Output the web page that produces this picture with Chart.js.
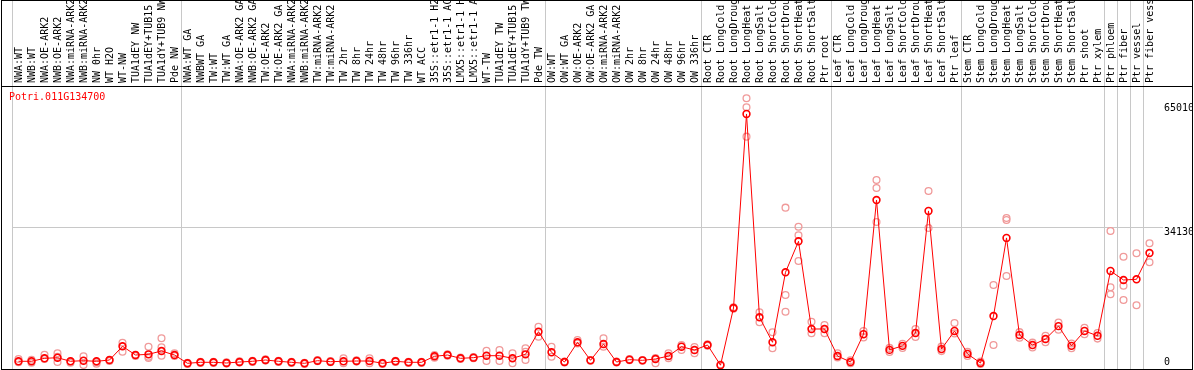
<!DOCTYPE html>
<html><head><meta charset="utf-8">
<script src="https://cdn.jsdelivr.net/npm/chart.js@4/dist/chart.umd.min.js"></script>
<style>html,body{margin:0;padding:0;background:#fff}canvas{display:block}</style>
</head><body>
<canvas id="c" width="1194" height="370"></canvas>
<script>
const geneName = 'Potri.011G134700';
const categories = [
 'NWA:WT','NWB:WT','NWA:OE-ARK2','NWB:OE-ARK2','NWA:miRNA-ARK2','NWB:miRNA-ARK2','NW 0hr','WT H2O','WT-NW','TUA1dEY NW','TUA1dEY+TUB15 NW','TUA1dY+TUB9 NW','Pde NW',
 'NWA:WT GA','NWBWT GA','TW:WT','TW:WT GA','NWA:OE-ARK2 GA','NWB:OE-ARK2 GA','TW:OE-ARK2','TW:OE-ARK2 GA','NWA:miRNA-ARK2','NWB:miRNA-ARK2','TW:miRNA-ARK2','TW:miRNA-ARK2',
 'TW 2hr','TW 8hr','TW 24hr','TW 48hr','TW 96hr','TW 336hr','WT ACC','35S::etr1-1 H2O','35S::etr1-1 ACC','LMX5::etr1-1 H2O','LMX5::etr1-1 ACC','WT-TW','TUA1dEY TW','TUA1dEY+TUB15 TW','TUA1dY+TUB9 TW','Pde TW',
 'OW:WT','OW:WT GA','OW:OE-ARK2','OW:OE-ARK2 GA','OW:miRNA-ARK2','OW:miRNA-ARK2','OW 2hr','OW 8hr','OW 24hr','OW 48hr','OW 96hr','OW 336hr',
 'Root CTR','Root LongCold','Root LongDrought','Root LongHeat','Root LongSalt','Root ShortCold','Root ShortDrought','Root ShortHeat','Root ShortSalt','Ptr root',
 'Leaf CTR','Leaf LongCold','Leaf LongDrought','Leaf LongHeat','Leaf LongSalt','Leaf ShortCold','Leaf ShortDrought','Leaf ShortHeat','Leaf ShortSalt','Ptr leaf',
 'Stem CTR','Stem LongCold','Stem LongDrought','Stem LongHeat','Stem LongSalt','Stem ShortCold','Stem ShortDrought','Stem ShortHeat','Stem ShortSalt','Ptr shoot',
 'Ptr xylem','Ptr phloem','Ptr fiber','Ptr vessel','Ptr fiber vessel'
];
const meanValues = [
 970,970,1710,1860,970,1120,970,1290,4690,2530,2700,3530,2530,
 470,720,720,550,790,970,1290,970,720,470,1120,870,
 970,1040,1040,470,970,720,720,2210,2530,1710,1870,2360,2360,1710,2700,8320,
 3200,790,5690,1210,5260,790,1370,1210,1540,2280,4590,3770,
 5020,0,14200,62370,11890,5690,23070,30760,8990,8990,
 2280,800,7700,41000,3800,4800,8000,38300,4000,8500,
 2800,550,12200,31600,7500,5000,6500,9700,4800,8500,
 7300,23400,21150,21330,27860
];
const rep1 = [
 1540,1370,2610,2950,970,2210,720,1290,5590,2530,4590,6680,2950,
 620,870,870,700,940,1120,1440,1120,870,620,1270,1020,
 1710,1190,1710,620,1120,870,870,2530,2700,1870,2030,3600,3770,2950,4190,9560,
 4590,900,6260,1300,6680,900,1500,1300,1800,2950,5000,4500,
 5200,150,14400,66270,13140,8170,39110,34390,10800,9980,
 2950,1200,8500,45990,4300,5300,9000,43250,4600,10480,
 3300,900,19910,36550,8200,5600,7300,10600,5400,9300,
 8000,33300,26940,27780,30270
];
const rep2 = [
 720,620,1540,2110,620,50,370,1040,3350,2280,2110,4440,2280,
 320,570,570,400,640,820,1140,820,570,320,970,720,
 470,890,470,320,820,570,570,1870,2360,1550,1710,1040,1040,470,3350,7080,
 2110,700,5400,1100,4590,700,1250,1100,470,1710,3770,2950,
 4850,null,14000,64030,10650,4190,17430,32250,7920,7920,
 1900,500,6900,44000,3300,4300,7000,34060,3500,7900,
 2300,300,5010,36050,6800,4400,5700,8800,4200,7700,
 6600,19340,19740,14870,25550
];
const rep3 = [
 null,null,null,790,null,null,null,null,null,null,1790,2360,null,
 null,null,null,null,null,null,null,null,null,null,null,null,
 null,null,null,null,null,null,null,null,null,null,null,null,null,null,1290,null,
 null,null,null,null,null,null,null,null,null,null,null,null,
 null,null,null,56740,null,null,13280,25870,null,null,
 null,null,null,35560,null,null,null,null,null,null,
 null,null,null,22150,null,null,null,null,null,null,
 null,17600,16190,null,null
];
const yTicks = [0, 34130, 65010];
const yMin = -943, yMax = 69315;
const separatorsBefore = [0,13,41,53,63,73,84,85,86,87,88];

const MONO = "'DejaVu Sans Mono', monospace";
Chart.defaults.font.family = MONO;
Chart.defaults.font.size = 10;
Chart.defaults.color = '#000';

const framePlugin = {
  id: 'frame',
  beforeDraw(chart) {
    const s = chart.scales.y;
    const items = s.getLabelItems(chart.chartArea);
    items.forEach(it => {
      const maxY = chart.chartArea.bottom - 7;
      if (it.options.translation[1] > maxY) it.options.translation[1] = maxY;
    });
  },
  afterDraw(chart) {
    const c = chart.ctx;
    c.save();
    c.strokeStyle = '#000';
    c.lineWidth = 1;
    c.strokeRect(1.5, 0.5, 1191, 369);
    c.beginPath();
    c.moveTo(1, chart.chartArea.top + 0.5);
    c.lineTo(1193, chart.chartArea.top + 0.5);
    c.stroke();
    c.fillStyle = '#ff0000';
    c.font = '10px ' + MONO;
    c.textBaseline = 'top';
    c.fillText(geneName, 9, 92);
    c.restore();
  }
};

const transparent = 'rgba(0,0,0,0)';
function repSet(data) {
  return {
    data, showLine: false, order: 1,
    pointStyle: 'circle', pointRadius: 3.4, pointBorderWidth: 1.3,
    pointBorderColor: '#f09a9a', pointBackgroundColor: transparent,
    borderColor: '#f09a9a', backgroundColor: transparent
  };
}

new Chart(document.getElementById('c'), {
  type: 'line',
  data: {
    labels: categories,
    datasets: [
      {
        data: meanValues, order: 0,
        borderColor: '#ff0000', borderWidth: 1, tension: 0,
        pointStyle: 'circle', pointRadius: 3.4, pointBorderWidth: 1.6,
        pointBorderColor: '#ff0000', pointBackgroundColor: transparent,
        backgroundColor: transparent
      },
      repSet(rep1), repSet(rep2), repSet(rep3)
    ]
  },
  options: {
    responsive: false,
    animation: false,
    devicePixelRatio: 1,
    layout: { autoPadding: false, padding: { left: 12, right: 2, top: 0, bottom: 1 } },
    plugins: { legend: { display: false }, tooltip: { enabled: false }, title: { display: false } },
    scales: {
      x: {
        position: 'top',
        offset: true,
        grid: {
          offset: true,
          color: ctx => separatorsBefore.includes(ctx.index) ? '#c8c8c8' : transparent,
          lineWidth: 1,
          drawTicks: true,
          tickLength: 86
        },
        border: { display: true, color: '#000', width: 1 },
        ticks: { autoSkip: false, maxRotation: 90, minRotation: 90, padding: -83, labelOffset: 13, color: '#000', font: { size: 10, family: MONO } },
        afterFit: s => { s.height = 86; s.paddingLeft = 0; s.paddingRight = 0; }
      },
      y: {
        position: 'right',
        min: yMin, max: yMax,
        afterBuildTicks: s => { s.ticks = yTicks.map(v => ({ value: v })); },
        grid: {
          color: ctx => (ctx.tick && ctx.tick.value === 34130) ? '#c8c8c8' : transparent,
          drawTicks: true, tickLength: 7, lineWidth: 1
        },
        border: { display: false },
        ticks: { padding: 1, color: '#000', crossAlign: 'near', labelOffset: 5, font: { size: 10, family: MONO }, callback: v => String(v) },
        afterFit: s => { s.width = 36; s.paddingTop = 0; s.paddingBottom = 0; }
      }
    }
  },
  plugins: [framePlugin]
});
</script>
</body></html>
